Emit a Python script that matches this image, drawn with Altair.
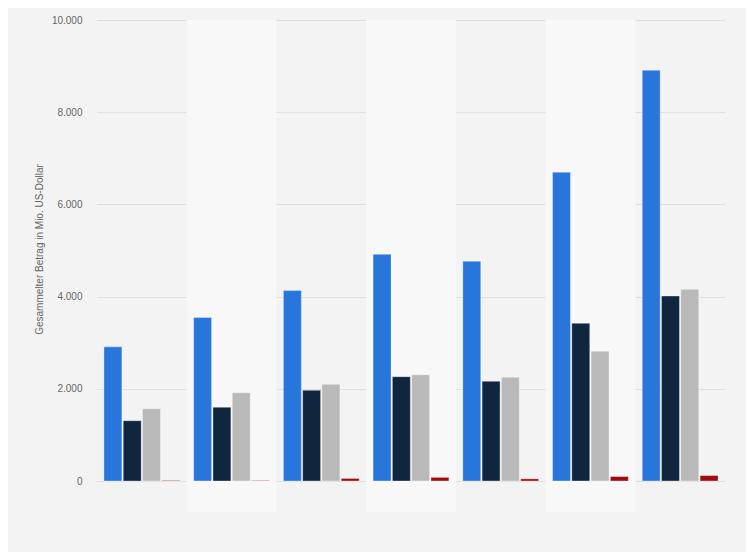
import altair as alt
import pandas as pd

groups = ["1", "2", "3", "4", "5", "6", "7"]
series = ["Serie A", "Serie B", "Serie C", "Serie D"]
colors = ["#2876dc", "#0f263e", "#b9b9b9", "#a10b0b"]

values_a = [2910, 3545, 4135, 4918, 4768, 6698, 8910]
values_b = [1308, 1600, 1968, 2262, 2163, 3420, 4013]
values_c = [1568, 1916, 2097, 2305, 2250, 2813, 4158]
values_d = [12, 10, 55, 78, 47, 97, 118]

band_groups = ["2", "4", "6"]

rows = []
for i, g in enumerate(groups):
    for s, vals in zip(series, [values_a, values_b, values_c, values_d]):
        rows.append({"Gruppe": g, "Serie": s, "Wert": vals[i]})
df = pd.DataFrame(rows)
bands = pd.DataFrame({"Gruppe": band_groups})

W, H = 628, 461

xscale = alt.Scale(domain=groups, paddingInner=0, paddingOuter=0)

bg = alt.Chart(bands).mark_rect(color="#f8f8f8").encode(
    x=alt.X("Gruppe:N", scale=xscale, axis=None),
    y=alt.value(0),
    y2=alt.value(H + 31),
)

bars = alt.Chart(df).mark_bar(
    stroke="#ffffff", strokeWidth=1, strokeOpacity=0.35
).encode(
    x=alt.X("Gruppe:N", scale=xscale,
            axis=alt.Axis(labels=False, ticks=False, title=None, grid=False,
                          domainColor="#333333", domainWidth=1.5)),
    xOffset=alt.XOffset("Serie:N", sort=series,
                        scale=alt.Scale(paddingInner=0.07, paddingOuter=0.36)),
    y=alt.Y("Wert:Q",
            scale=alt.Scale(domain=[0, 10000], nice=False),
            axis=alt.Axis(values=[0, 2000, 4000, 6000, 8000, 10000],
                          labelExpr="replace(format(datum.value, ',d'), ',', '.')",
                          title="Gesammelter Betrag in Mio. US-Dollar",
                          titleX=-53, titleY=229, titleAngle=270,
                          titleAlign="center",
                          titleFontSize=10, titleFontWeight="normal",
                          titleColor="#666666", titleFont="Liberation Sans",
                          labelColor="#666666", labelFontSize=10,
                          labelFont="Liberation Sans",
                          labelPadding=15,
                          ticks=False, domain=False,
                          grid=True, gridColor="#cccccc", gridDash=[1, 1],
                          gridWidth=1)),
    color=alt.Color("Serie:N", sort=series,
                    scale=alt.Scale(domain=series, range=colors), legend=None),
)

chart = alt.layer(bg, bars).properties(
    width=W, height=H,
    autosize="none",
    padding={"left": 89, "top": 12, "right": 21, "bottom": 71},
    background="#f3f3f3",
).configure_view(stroke=None, fill=None)

chart.save("out.html", embed_options={"renderer": "svg", "actions": False})
